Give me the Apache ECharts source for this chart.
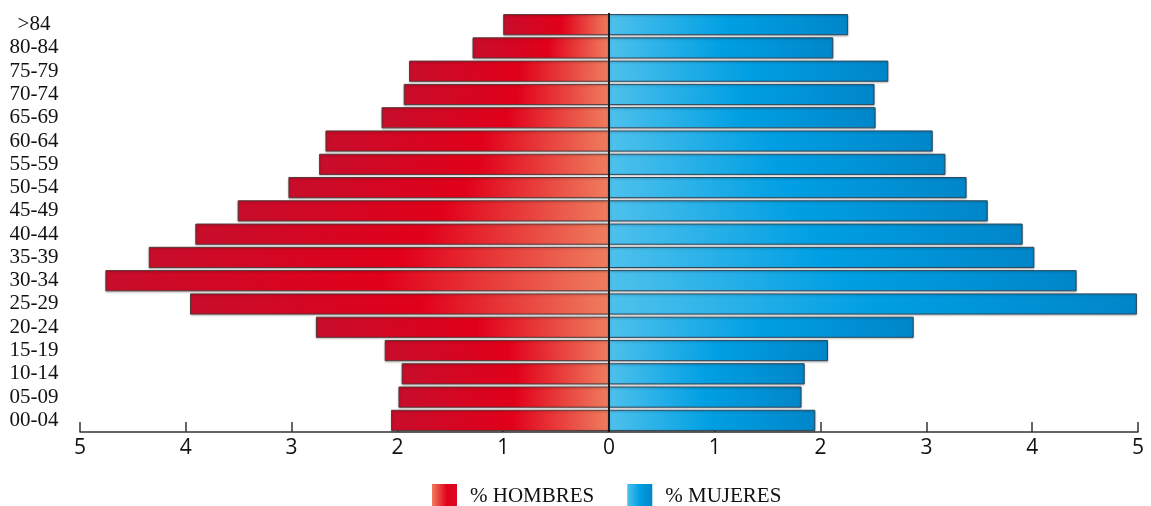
<!DOCTYPE html>
<html><head><meta charset="utf-8">
<script src="https://cdn.jsdelivr.net/npm/echarts@6/dist/echarts.min.js"></script>
<style>html,body{margin:0;padding:0;background:#fff}#c{width:1151px;height:506px}</style>
</head><body><div id="c"></div>
<script>
const categories = ['00-04','05-09','10-14','15-19','20-24','25-29','30-34','35-39','40-44','45-49','50-54','55-59','60-64','65-69','70-74','75-79','80-84','>84'];
const hombres = [2.06,1.99,1.96,2.12,2.77,3.96,4.76,4.35,3.91,3.51,3.03,2.74,2.68,2.15,1.94,1.89,1.29,1.00];
const mujeres = [1.95,1.82,1.85,2.07,2.88,4.99,4.42,4.02,3.91,3.58,3.38,3.18,3.06,2.52,2.51,2.64,2.12,2.26];
const xTicks = [-5,-4,-3,-2,-1,0,1,2,3,4,5];

const G = echarts.graphic.LinearGradient;
const redBar = new G(0,0,1,0,[{offset:0,color:'#c70d2b'},{offset:0.55,color:'#e1001a'},{offset:1,color:'#ef7d5e'}]);
const blueBar = new G(0,0,1,0,[{offset:0,color:'#4ec1ec'},{offset:0.5,color:'#009fe3'},{offset:1,color:'#0086c9'}]);
const redLeg = new G(0,0,1,0,[{offset:0,color:'#ef7d5e'},{offset:0.6,color:'#e1001a'},{offset:1,color:'#d80a24'}]);
const blueLeg = new G(0,0,1,0,[{offset:0,color:'#4ec1ec'},{offset:0.5,color:'#009fe3'},{offset:1,color:'#0086c9'}]);

const chart = echarts.init(document.getElementById('c'), null, {renderer:'canvas'});
chart.setOption({
  animation:false,
  grid:{left:80,right:13,top:13,bottom:74,containLabel:false},
  legend:{
    left:427, top:479, itemWidth:25, itemHeight:25, itemGap:33, icon:'rect',
    textStyle:{fontFamily:'Liberation Serif',fontSize:21,color:'#111',padding:[0,0,0,8]},
    data:[{name:'% HOMBRES',itemStyle:{color:redLeg,borderWidth:0}},{name:'% MUJERES',itemStyle:{color:blueLeg,borderWidth:0}}]
  },
  xAxis:{
    type:'value', min:xTicks[0], max:xTicks[xTicks.length-1], interval:1,
    axisLine:{show:true,lineStyle:{color:'#333',width:1.5}},
    axisTick:{show:true,inside:true,length:10,lineStyle:{color:'#333',width:1.5}},
    axisLabel:{formatter:v=>String(Math.abs(v)),fontFamily:'Open Sans',fontSize:21,color:'#111',margin:6},
    splitLine:{show:false}
  },
  yAxis:{
    type:'category', data:categories,
    axisLine:{show:false}, axisTick:{show:false}, splitLine:{show:false},
    axisLabel:{interval:0,fontFamily:'Liberation Serif',fontSize:21,color:'#111',align:'center',margin:46}
  },
  series:[
    {name:'% HOMBRES',type:'bar',data:hombres.map(v=>-v),barCategoryGap:'9%',barGap:'-100%',
     itemStyle:{color:redBar,borderColor:'#5a3a3a',borderWidth:1,shadowColor:'rgba(0,0,0,0.25)',shadowBlur:2,shadowOffsetY:1},
     markLine:{silent:true,symbol:'none',label:{show:false},lineStyle:{color:'#1a1a1a',width:2,type:'solid'},data:[{xAxis:0}]},
     z:2},
    {name:'% MUJERES',type:'bar',data:mujeres,barCategoryGap:'9%',barGap:'-100%',
     itemStyle:{color:blueBar,borderColor:'#2d4a5e',borderWidth:1,shadowColor:'rgba(0,0,0,0.25)',shadowBlur:2,shadowOffsetY:1},
     z:2}
  ]
});
</script></body></html>
